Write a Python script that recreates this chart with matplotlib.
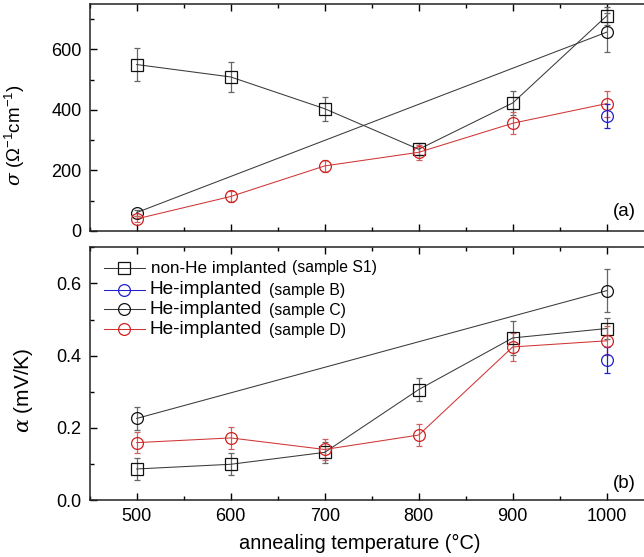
import numpy as np
import matplotlib
matplotlib.use('Agg')
import matplotlib.pyplot as plt
from matplotlib.ticker import MultipleLocator

plt.rcParams['font.family'] = ['Liberation Sans', 'DejaVu Sans']
plt.rcParams['mathtext.fontset'] = 'custom'
plt.rcParams['mathtext.rm'] = 'Liberation Sans'
plt.rcParams['mathtext.it'] = 'DejaVu Serif:italic'

# annealing temperatures
temps = [500, 600, 700, 800, 900, 1000]

# conductivity sigma (Ohm^-1 cm^-1)
sig_s1 = [550, 509, 404, 270, 423, 711]
sig_s1_err = [53, 50, 40, 20, 40, 30]
sig_c_t = [500, 1000]
sig_c = [61, 657]
sig_c_err = [10, 64]
sig_d = [40, 114, 215, 260, 356, 421]
sig_d_err = [10, 17, 20, 25, 37, 43]
sig_b_t = [1000]
sig_b = [380]
sig_b_err = [41]

# Seebeck coefficient alpha (mV/K)
alp_s1 = [0.086, 0.099, 0.132, 0.306, 0.449, 0.475]
alp_s1_err = [0.03, 0.03, 0.03, 0.031, 0.046, 0.03]
alp_c_t = [500, 1000]
alp_c = [0.226, 0.58]
alp_c_err = [0.031, 0.059]
alp_d = [0.159, 0.172, 0.140, 0.180, 0.424, 0.441]
alp_d_err = [0.03, 0.03, 0.03, 0.03, 0.04, 0.04]
alp_b_t = [1000]
alp_b = [0.388]
alp_b_err = [0.036]

legend_main = ['non-He implanted', 'He-implanted', 'He-implanted', 'He-implanted']
legend_sample = ['(sample S1)', '(sample B)', '(sample C)', '(sample D)']

fig = plt.figure(figsize=(6.44, 5.57), dpi=100)
ax1 = fig.add_axes([0.1393, 0.5853, 0.8758, 0.4075])
ax2 = fig.add_axes([0.1393, 0.1023, 0.8758, 0.4537])

black = '#3a3a3a'
red = '#d03535'
blue = '#2020d0'
ebk = dict(elinewidth=0.9, capsize=2.5, capthick=0.8, markersize=8.5,
           markerfacecolor='none', markeredgewidth=0.9, linewidth=0.75)

def draw(ax, s1, s1e, ct, c, ce, d, de, bt, b, be):
    ax.errorbar(temps, s1, yerr=s1e, marker='s', color=black, ecolor='#666666',
                markeredgecolor='#111111', **ebk)
    ax.errorbar(ct, c, yerr=ce, marker='o', color=black, ecolor='#666666',
                markeredgecolor='#111111', **ebk)
    ax.errorbar(temps, d, yerr=de, marker='o', color=red, ecolor='#d06060',
                markeredgecolor='#d02020', **ebk)
    ax.errorbar(bt, b, yerr=be, marker='o', color=blue, ecolor=blue,
                markeredgecolor=blue, **ebk)

draw(ax1, sig_s1, sig_s1_err, sig_c_t, sig_c, sig_c_err, sig_d, sig_d_err,
     sig_b_t, sig_b, sig_b_err)
draw(ax2, alp_s1, alp_s1_err, alp_c_t, alp_c, alp_c_err, alp_d, alp_d_err,
     alp_b_t, alp_b, alp_b_err)

for ax in (ax1, ax2):
    ax.set_xlim(450, 1050)
    ax.xaxis.set_major_locator(MultipleLocator(100))
    ax.xaxis.set_minor_locator(MultipleLocator(50))
    ax.tick_params(which='both', direction='in', top=True, right=True,
                   labelsize=13, pad=6)
    ax.tick_params(which='major', length=5, width=1.0)
    ax.tick_params(which='minor', length=3, width=1.0)
    for sp in ax.spines.values():
        sp.set_linewidth(1.1)
        sp.set_color('#222222')

ax1.set_ylim(0, 750)
ax1.yaxis.set_major_locator(MultipleLocator(200))
ax1.yaxis.set_minor_locator(MultipleLocator(100))
ax1.tick_params(labelbottom=False)
ax1.set_ylabel(r'$\sigma$ ($\Omega^{-1}$cm$^{-1}$)', fontsize=13.5)
ax1.yaxis.set_label_coords(-0.112, 0.42)
ax1.text(0.928, 0.05, '(a)', transform=ax1.transAxes, fontsize=13.5,
         ha='left', va='bottom')

ax2.set_ylim(0, 0.7)
ax2.yaxis.set_major_locator(MultipleLocator(0.2))
ax2.yaxis.set_minor_locator(MultipleLocator(0.1))
ax2.yaxis.set_major_formatter(matplotlib.ticker.FormatStrFormatter('%.1f'))
ax2.set_ylabel(r'$\alpha$ (mV/K)', fontsize=15)
ax2.yaxis.set_label_coords(-0.097, 0.435)
ax2.set_xlabel('annealing temperature (°C)', fontsize=14.4)
ax2.xaxis.set_label_coords(0.479, -0.135)
ax2.text(0.928, 0.03, '(b)', transform=ax2.transAxes, fontsize=13.5,
         ha='left', va='bottom')

# legend drawn by hand
leg_styles = [('s', black, '#111111'), ('o', blue, blue),
              ('o', black, '#111111'), ('o', red, '#d02020')]
row_y = [0.917, 0.833, 0.754, 0.675]
for i, (mk, lc, mc) in enumerate(leg_styles):
    y = row_y[i]
    ax2.plot([0.026, 0.098], [y, y], color=lc, lw=0.75,
             transform=ax2.transAxes, clip_on=False)
    ax2.plot([0.061], [y], marker=mk, ms=8.5, mfc='none', mec=mc, mew=0.9,
             transform=ax2.transAxes, clip_on=False)
    if i == 0:
        ax2.text(0.109, y, legend_main[i], transform=ax2.transAxes,
                 fontsize=12.3, va='center', ha='left')
        ax2.text(0.358, y + 0.005, legend_sample[i], transform=ax2.transAxes,
                 fontsize=11.3, va='center', ha='left')
    else:
        ax2.text(0.106, y, legend_main[i], transform=ax2.transAxes,
                 fontsize=13.7, va='center', ha='left')
        ax2.text(0.317, y - 0.003, legend_sample[i], transform=ax2.transAxes,
                 fontsize=11.3, va='center', ha='left')

fig.savefig('out.png', dpi=100)
